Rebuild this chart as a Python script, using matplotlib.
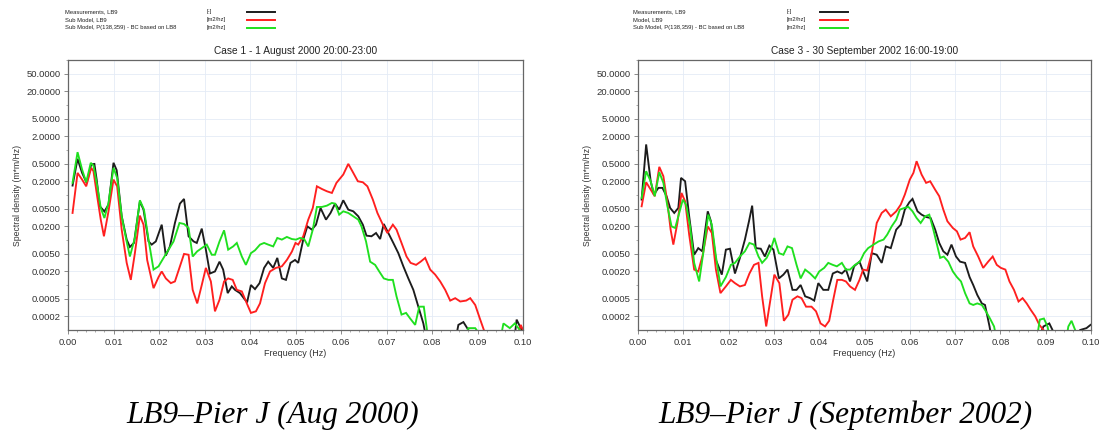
import matplotlib
matplotlib.use("Agg")
import matplotlib.pyplot as plt
from matplotlib.lines import Line2D

# ---- Case 1 - 1 August 2000 (left panel) ----
c1_meas_f = [0.0010, 0.0021, 0.0031, 0.0041, 0.0051, 0.0058, 0.0063, 0.0070, 0.0080, 0.0089,
             0.0100, 0.0107, 0.0118, 0.0129, 0.0136, 0.0145, 0.0158, 0.0166, 0.0177, 0.0184,
             0.0193, 0.0206, 0.0215, 0.0224, 0.0235, 0.0246, 0.0255, 0.0265, 0.0276, 0.0283,
             0.0294, 0.0303, 0.0312, 0.0323, 0.0333, 0.0341, 0.0351, 0.0360, 0.0367, 0.0378,
             0.0389, 0.0394, 0.0402, 0.0411, 0.0421, 0.0431, 0.0440, 0.0451, 0.0460, 0.0470,
             0.0479, 0.0489, 0.0499, 0.0506, 0.0517, 0.0526, 0.0536, 0.0545, 0.0555, 0.0567,
             0.0577, 0.0587, 0.0596, 0.0605, 0.0616, 0.0627, 0.0638, 0.0648, 0.0656, 0.0667,
             0.0677, 0.0686, 0.0694, 0.0704, 0.0715, 0.0726, 0.0737, 0.0748, 0.0759, 0.0770,
             0.0781, 0.0788, 0.0810, 0.0850, 0.0858, 0.0869, 0.0880, 0.0890, 0.0980, 0.0986,
             0.0997]
c1_meas = [0.162, 0.636, 0.310, 0.186, 0.48, 0.49, 0.22, 0.056, 0.043, 0.061,
           0.52, 0.356, 0.034, 0.0102, 0.0070, 0.0086, 0.0725, 0.047, 0.0093, 0.0079,
           0.0093, 0.0219, 0.0045, 0.0072, 0.0239, 0.0643, 0.0817, 0.0121, 0.0093, 0.0086,
           0.0179, 0.0061, 0.0018, 0.0020, 0.0033, 0.0022, 0.00066, 0.00093, 0.00078, 0.00066,
           0.00047, 0.00043, 0.0010, 0.00081, 0.0011, 0.0024, 0.0033, 0.0024, 0.0040, 0.0014,
           0.0013, 0.0031, 0.0036, 0.0031, 0.0102, 0.0201, 0.0170, 0.0219, 0.0515, 0.0283,
           0.0399, 0.0643, 0.0473, 0.0764, 0.0473, 0.0434, 0.0336, 0.0219, 0.0125, 0.0121,
           0.0143, 0.0105, 0.0227, 0.0143, 0.0086, 0.0051, 0.0026, 0.0014, 0.00078, 0.00033,
           0.00014, 0.00006, 0.00004, 0.00005, 0.00013, 0.00015, 0.0001, 0.00005, 0.00005, 0.00017,
           0.0001]

c1_sub_f = [0.0010, 0.0021, 0.0031, 0.0040, 0.0051, 0.0056, 0.0063, 0.0072, 0.0079, 0.0089,
            0.0100, 0.0108, 0.0118, 0.0129, 0.0138, 0.0147, 0.0158, 0.0166, 0.0174, 0.0188,
            0.0199, 0.0206, 0.0215, 0.0226, 0.0235, 0.0246, 0.0255, 0.0265, 0.0274, 0.0284,
            0.0294, 0.0303, 0.0314, 0.0323, 0.0333, 0.0343, 0.0352, 0.0362, 0.0371, 0.0382,
            0.0393, 0.0402, 0.0413, 0.0422, 0.0433, 0.0444, 0.0457, 0.0470, 0.0481, 0.0492,
            0.0500, 0.0506, 0.0517, 0.0528, 0.0538, 0.0547, 0.0558, 0.0569, 0.0580, 0.0590,
            0.0605, 0.0616, 0.0627, 0.0637, 0.0648, 0.0658, 0.0670, 0.0680, 0.0692, 0.0702,
            0.0714, 0.0722, 0.0733, 0.0744, 0.0753, 0.0765, 0.0775, 0.0785, 0.0796, 0.0807,
            0.0818, 0.0829, 0.0840, 0.0851, 0.0862, 0.0875, 0.0884, 0.0895, 0.0906, 0.0914,
            0.0925, 0.0985, 0.0995, 0.1000]
c1_sub = [0.0399, 0.310, 0.220, 0.156, 0.401, 0.338, 0.111, 0.0283, 0.0121, 0.0434,
          0.220, 0.156, 0.0170, 0.0031, 0.0013, 0.0051, 0.0348, 0.0219, 0.0036, 0.00085,
          0.0015, 0.0020, 0.0014, 0.0011, 0.0012, 0.0026, 0.0049, 0.0047, 0.00078, 0.00039,
          0.0010, 0.0024, 0.0012, 0.00026, 0.00047, 0.0012, 0.0014, 0.0013, 0.00078, 0.00072,
          0.00039, 0.00024, 0.00026, 0.00039, 0.0011, 0.0020, 0.0024, 0.0026, 0.0036, 0.0055,
          0.0086, 0.0079, 0.0121, 0.0283, 0.0515, 0.156, 0.136, 0.121, 0.111, 0.186,
          0.285, 0.492, 0.310, 0.202, 0.192, 0.156, 0.079, 0.0399, 0.0219, 0.0143,
          0.0219, 0.0170, 0.0086, 0.0043, 0.0031, 0.0028, 0.0033, 0.0040, 0.0022, 0.0017,
          0.0012, 0.00078, 0.00045, 0.00051, 0.00043, 0.00045, 0.00051, 0.00036, 0.00017, 0.0001,
          0.00005, 0.00005, 0.00013, 0.0001]

c1_bc_f = [0.0010, 0.0021, 0.0031, 0.0040, 0.0050, 0.0056, 0.0065, 0.0072, 0.0080, 0.0089,
           0.0100, 0.0108, 0.0118, 0.0128, 0.0136, 0.0147, 0.0158, 0.0167, 0.0177, 0.0188,
           0.0199, 0.0210, 0.0221, 0.0232, 0.0245, 0.0255, 0.0265, 0.0274, 0.0284, 0.0294,
           0.0305, 0.0316, 0.0323, 0.0333, 0.0343, 0.0352, 0.0363, 0.0371, 0.0382, 0.0391,
           0.0402, 0.0411, 0.0422, 0.0431, 0.0440, 0.0451, 0.0460, 0.0470, 0.0481, 0.0492,
           0.0501, 0.0510, 0.0519, 0.0528, 0.0538, 0.0547, 0.0558, 0.0569, 0.0580, 0.0587,
           0.0596, 0.0605, 0.0616, 0.0627, 0.0638, 0.0645, 0.0655, 0.0664, 0.0675, 0.0684,
           0.0694, 0.0704, 0.0714, 0.0722, 0.0733, 0.0743, 0.0752, 0.0763, 0.0772, 0.0782,
           0.0792, 0.0870, 0.0880, 0.0895, 0.0905, 0.0950, 0.0957, 0.0971, 0.0982, 0.0993,
           0.1000]
c1_bc = [0.186, 0.895, 0.368, 0.192, 0.518, 0.452, 0.144, 0.0515, 0.0308, 0.0666,
         0.401, 0.240, 0.0336, 0.0102, 0.0043, 0.0111, 0.0764, 0.0473, 0.0102, 0.0022,
         0.0026, 0.0040, 0.0061, 0.0093, 0.0239, 0.0227, 0.0185, 0.0043, 0.0056, 0.0066,
         0.0079, 0.0047, 0.0047, 0.0093, 0.0164, 0.0061, 0.0072, 0.0086, 0.0043, 0.0028,
         0.0051, 0.0059, 0.0079, 0.0086, 0.0079, 0.0072, 0.0111, 0.0102, 0.0117, 0.0105,
         0.0102, 0.0111, 0.0105, 0.0072, 0.0170, 0.0542, 0.0542, 0.058, 0.0666, 0.0643,
         0.0366, 0.0434, 0.0399, 0.0336, 0.0283, 0.0201, 0.0093, 0.0033, 0.0028, 0.0020,
         0.0014, 0.0013, 0.0013, 0.00056, 0.00022, 0.00024, 0.00018, 0.00013, 0.00033, 0.00033,
         0.00006, 0.00006, 0.00011, 0.00011, 0.00008, 0.00006, 0.00014, 0.00011, 0.00014, 0.0001,
         0.00008]

# ---- Case 3 - 30 September 2002 (right panel) ----
c3_meas_f = [0.0008, 0.0018, 0.0028, 0.0035, 0.0045, 0.0054, 0.0063, 0.0071, 0.0080, 0.0089,
             0.0095, 0.0104, 0.0113, 0.0124, 0.0133, 0.0142, 0.0154, 0.0161, 0.0172, 0.0185,
             0.0194, 0.0203, 0.0214, 0.0225, 0.0236, 0.0245, 0.0252, 0.0260, 0.0271, 0.0280,
             0.0290, 0.0299, 0.0311, 0.0321, 0.0330, 0.0341, 0.0350, 0.0359, 0.0369, 0.0380,
             0.0389, 0.0398, 0.0409, 0.0420, 0.0430, 0.0440, 0.0450, 0.0459, 0.0468, 0.0477,
             0.0489, 0.0497, 0.0506, 0.0516, 0.0527, 0.0538, 0.0547, 0.0558, 0.0570, 0.0580,
             0.0589, 0.0599, 0.0606, 0.0617, 0.0626, 0.0636, 0.0646, 0.0656, 0.0665, 0.0674,
             0.0683, 0.0692, 0.0702, 0.0711, 0.0722, 0.0732, 0.0740, 0.0749, 0.0759, 0.0766,
             0.0776, 0.0781, 0.0880, 0.0895, 0.0908, 0.0915, 0.0925, 0.0970, 0.0976, 0.0990,
             0.0999]
c3_meas = [0.079, 1.33, 0.202, 0.102, 0.144, 0.144, 0.094, 0.0515, 0.0399, 0.0515,
           0.240, 0.202, 0.0336, 0.0047, 0.0066, 0.0056, 0.0434, 0.0261, 0.0036, 0.0017,
           0.0061, 0.0064, 0.0018, 0.0040, 0.0102, 0.0261, 0.058, 0.0066, 0.0064, 0.0043,
           0.0075, 0.0061, 0.0014, 0.0017, 0.0022, 0.00078, 0.00078, 0.0010, 0.00056, 0.00051,
           0.00045, 0.0011, 0.00078, 0.00078, 0.0018, 0.0020, 0.0018, 0.0022, 0.0012, 0.0026,
           0.0033, 0.0020, 0.0012, 0.0051, 0.0047, 0.0031, 0.0072, 0.0066, 0.0170, 0.0219,
           0.0473, 0.0689, 0.082, 0.0434, 0.0366, 0.0325, 0.0308, 0.0170, 0.0086, 0.0056,
           0.0047, 0.0079, 0.0043, 0.0033, 0.0031, 0.0015, 0.0010, 0.0006, 0.00039, 0.00036,
           0.00012, 0.00006, 0.00005, 0.00012, 0.00014, 0.0001, 0.00005, 0.00006, 0.0001, 0.00011,
           0.00013]

c3_model_f = [0.0008, 0.0018, 0.0028, 0.0037, 0.0047, 0.0056, 0.0065, 0.0072, 0.0078, 0.0087,
              0.0096, 0.0104, 0.0113, 0.0124, 0.0133, 0.0143, 0.0154, 0.0163, 0.0172, 0.0182,
              0.0194, 0.0205, 0.0214, 0.0225, 0.0236, 0.0246, 0.0256, 0.0266, 0.0274, 0.0283,
              0.0291, 0.0301, 0.0312, 0.0322, 0.0332, 0.0341, 0.0352, 0.0361, 0.0371, 0.0383,
              0.0393, 0.0403, 0.0413, 0.0422, 0.0431, 0.0440, 0.0450, 0.0459, 0.0468, 0.0479,
              0.0489, 0.0497, 0.0506, 0.0516, 0.0527, 0.0538, 0.0547, 0.0558, 0.0570, 0.0580,
              0.0589, 0.0600, 0.0608, 0.0615, 0.0626, 0.0636, 0.0645, 0.0656, 0.0665, 0.0674,
              0.0683, 0.0695, 0.0704, 0.0712, 0.0722, 0.0732, 0.0740, 0.0751, 0.0762, 0.0773,
              0.0783, 0.0792, 0.0801, 0.0811, 0.0820, 0.0830, 0.0840, 0.0849, 0.0858, 0.0867,
              0.0877, 0.0886, 0.0895, 0.0902, 0.1000]
c3_model = [0.0561, 0.192, 0.132, 0.094, 0.422, 0.261, 0.0666, 0.017, 0.0079, 0.0239,
            0.111, 0.0725, 0.0131, 0.0022, 0.0020, 0.0047, 0.0201, 0.0143, 0.0022, 0.00066,
            0.00093, 0.0013, 0.0011, 0.00093, 0.0010, 0.0018, 0.0028, 0.0031, 0.00056, 0.00012,
            0.00039, 0.0017, 0.0011, 0.00016, 0.00022, 0.00047, 0.00056, 0.00051, 0.00033, 0.00033,
            0.00026, 0.00014, 0.00012, 0.00016, 0.00047, 0.0013, 0.0013, 0.0012, 0.00093, 0.00078,
            0.0013, 0.0022, 0.0021, 0.0051, 0.0239, 0.0399, 0.0473, 0.0336, 0.0434, 0.0611,
            0.102, 0.220, 0.310, 0.564, 0.285, 0.186, 0.202, 0.131, 0.094, 0.0473,
            0.0261, 0.0185, 0.0156, 0.0102, 0.0111, 0.0149, 0.0072, 0.0043, 0.0024, 0.0033,
            0.0043, 0.0028, 0.0024, 0.0022, 0.0012, 0.00078, 0.00043, 0.00051, 0.00039, 0.00028,
            0.0002, 0.00013, 0.0001, 0.00006, 0.00005]

c3_bc_f = [0.0008, 0.0018, 0.0028, 0.0037, 0.0047, 0.0056, 0.0065, 0.0074, 0.0082, 0.0089,
           0.0099, 0.0106, 0.0115, 0.0124, 0.0135, 0.0144, 0.0155, 0.0163, 0.0172, 0.0182,
           0.0194, 0.0205, 0.0214, 0.0225, 0.0236, 0.0246, 0.0256, 0.0266, 0.0274, 0.0284,
           0.0293, 0.0301, 0.0311, 0.0321, 0.0330, 0.0340, 0.0350, 0.0359, 0.0369, 0.0380,
           0.0391, 0.0400, 0.0411, 0.0420, 0.0430, 0.0439, 0.0450, 0.0459, 0.0468, 0.0479,
           0.0490, 0.0499, 0.0508, 0.0520, 0.0531, 0.0542, 0.0550, 0.0560, 0.0570, 0.0578,
           0.0588, 0.0597, 0.0606, 0.0615, 0.0624, 0.0634, 0.0643, 0.0652, 0.0661, 0.0667,
           0.0675, 0.0685, 0.0695, 0.0704, 0.0713, 0.0722, 0.0732, 0.0740, 0.0749, 0.0759,
           0.0768, 0.0777, 0.0786, 0.0792, 0.0880, 0.0887, 0.0896, 0.0904, 0.0910, 0.0945,
           0.0950, 0.0957, 0.0965, 0.0970, 0.1000]
c3_bc = [0.086, 0.338, 0.202, 0.094, 0.321, 0.186, 0.0561, 0.0201, 0.0185, 0.0336,
         0.079, 0.0611, 0.0201, 0.0031, 0.0012, 0.0051, 0.0366, 0.0219, 0.0043, 0.00093,
         0.0015, 0.0028, 0.0031, 0.0043, 0.0056, 0.0086, 0.0079, 0.0043, 0.0031, 0.0040,
         0.0061, 0.0111, 0.0051, 0.0047, 0.0072, 0.0066, 0.0028, 0.0014, 0.0022, 0.0018,
         0.0014, 0.0020, 0.0024, 0.0031, 0.0028, 0.0026, 0.0031, 0.0022, 0.0022, 0.0028,
         0.0033, 0.0051, 0.0066, 0.0079, 0.0093, 0.0102, 0.0131, 0.0201, 0.0283, 0.0473,
         0.0515, 0.0542, 0.0434, 0.0308, 0.0239, 0.0336, 0.0366, 0.017, 0.0072, 0.0040,
         0.0043, 0.0033, 0.0020, 0.0015, 0.0012, 0.00066, 0.00039, 0.00036, 0.00039, 0.00036,
         0.00026, 0.00018, 0.00012, 0.00006, 0.00006, 0.00017, 0.00018, 0.00012, 0.00006, 0.00006,
         0.00012, 0.00016, 0.0001, 0.00006, 0.00006]

y_ticks = [50, 20, 5, 2, 0.5, 0.2, 0.05, 0.02, 0.005, 0.002, 0.0005, 0.0002]
x_ticks = [0.00, 0.01, 0.02, 0.03, 0.04, 0.05, 0.06, 0.07, 0.08, 0.09, 0.10]

BLACK = '#1c1c1c'
RED = '#ff1f1f'
GREEN = '#1fe01f'
SANS = 'Liberation Sans'


def draw_panel(ax, title, series):
    for f, v, c in series:
        ax.plot(f, v, color=c, lw=1.35, solid_joinstyle='miter')
    ax.set_yscale('log')
    ax.set_ylim(1e-4, 100)
    ax.set_xlim(0, 0.1)
    ax.set_yticks(y_ticks)
    ax.set_yticklabels([f"{t:.4f}" for t in y_ticks])
    ax.set_yticks([100, 10, 1, 0.1, 0.01, 0.001], minor=True)
    ax.set_yticklabels([], minor=True)
    ax.set_xticks(x_ticks)
    ax.set_xticklabels([f"{t:.2f}" for t in x_ticks])
    ax.set_xticks([i * 0.002 for i in range(51)], minor=True)
    ax.tick_params(which='major', length=3, width=0.6, color='#777777',
                   labelsize=6.8, labelcolor='#333333', pad=2.5)
    ax.tick_params(which='minor', length=1.5, width=0.5, color='#888888')
    for lab in ax.get_xticklabels() + ax.get_yticklabels():
        lab.set_fontfamily(SANS)
    ax.grid(True, which='major', color='#e4ebf6', lw=0.6)
    for s in ax.spines.values():
        s.set_color('#666666')
        s.set_linewidth(0.9)
    ax.set_title(title, fontsize=7.3, family=SANS, color='#222222', pad=4)
    ax.set_xlabel('Frequency (Hz)', fontsize=6.5, family=SANS, color='#333333', labelpad=1.5)
    ax.set_ylabel('Spectral density (m*m/Hz)', fontsize=6.2, family=SANS,
                  color='#333333', labelpad=3)


def draw_legend(fig, x_text, x_unit, x_line, rows):
    W, H = 1102, 434
    for i, (label, unit, color) in enumerate(rows):
        y = 12 + 8 * i
        fig.text(x_text / W, 1 - y / H, label, fontsize=4.2, family=SANS,
                 color='#222222', va='center')
        fig.text(x_unit / W, 1 - y / H, unit, fontsize=4.2, family=SANS,
                 color='#222222', va='center')
        fig.add_artist(Line2D([x_line / W, (x_line + 28) / W], [1 - y / H, 1 - y / H],
                              color=color, lw=1.4, transform=fig.transFigure))


fig = plt.figure(figsize=(11.02, 4.34), dpi=100)
ax1 = fig.add_axes([68 / 1102, 104 / 434, 455 / 1102, 270 / 434])
ax2 = fig.add_axes([638 / 1102, 104 / 434, 453 / 1102, 270 / 434])

draw_panel(ax1, 'Case 1 - 1 August 2000 20:00-23:00',
           [(c1_meas_f, c1_meas, BLACK), (c1_sub_f, c1_sub, RED), (c1_bc_f, c1_bc, GREEN)])
draw_panel(ax2, 'Case 3 - 30 September 2002 16:00-19:00',
           [(c3_meas_f, c3_meas, BLACK), (c3_model_f, c3_model, RED), (c3_bc_f, c3_bc, GREEN)])

draw_legend(fig, 65, 207, 247, [
    ('Measurements, LB9', '[-]', BLACK),
    ('Sub Model, LB9', '[m2/hz]', RED),
    ('Sub Model, P(138,359) - BC based on LB8', '[m2/hz]', GREEN),
])
draw_legend(fig, 633, 787, 820, [
    ('Measurements, LB9', '[-]', BLACK),
    ('Model, LB9', '[m2/hz]', RED),
    ('Sub Model, P(138,359) - BC based on LB8', '[m2/hz]', GREEN),
])

fig.text(273 / 1102, 1 - 415 / 434, 'LB9\u2013Pier J (Aug 2000)', fontsize=22.5,
         family='Liberation Serif', style='italic', ha='center', va='center')
fig.text(845 / 1102, 1 - 415 / 434, 'LB9\u2013Pier J (September 2002)', fontsize=22.5,
         family='Liberation Serif', style='italic', ha='center', va='center')

fig.savefig('out.png', dpi=100)
